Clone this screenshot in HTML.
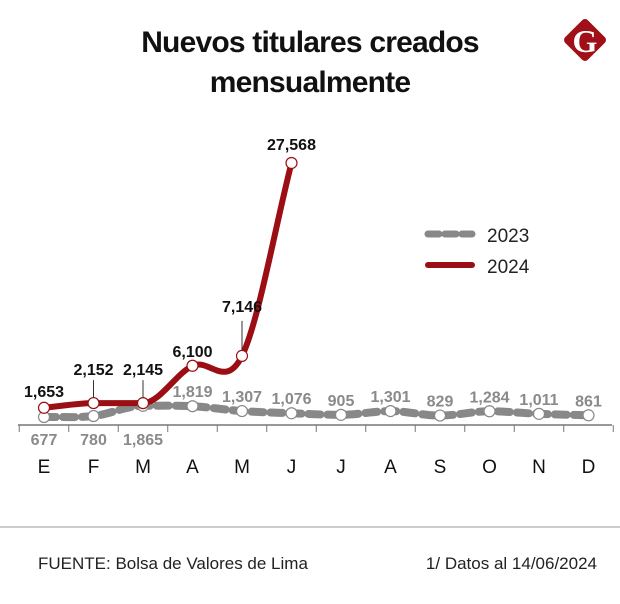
<!DOCTYPE html>
<html><head><meta charset="utf-8"><style>
body{margin:0;background:#fff;width:620px;height:599px;overflow:hidden;font-family:"Liberation Sans",sans-serif}
</style></head><body>
<svg width="620" height="599">
<text x="310" y="52" text-anchor="middle" font-size="30" font-weight="bold" fill="#111" letter-spacing="-0.8">Nuevos titulares creados</text>
<text x="310" y="92" text-anchor="middle" font-size="30" font-weight="bold" fill="#111" letter-spacing="-0.8">mensualmente</text>
<g>
<rect x="569" y="24" width="32" height="32" rx="4" fill="#a01018" transform="rotate(45 585 40)"/>
<text x="585" y="52" text-anchor="middle" font-family="Liberation Serif" font-weight="bold" font-size="32" fill="#fff">G</text>
</g>
<g>
<line x1="428" y1="234" x2="472" y2="234" stroke="#888" stroke-width="7" stroke-dasharray="11,6" stroke-linecap="round"/>
<text x="487" y="242" font-size="19" fill="#222">2023</text>
<line x1="428" y1="265" x2="472" y2="265" stroke="#9b0e14" stroke-width="6" stroke-linecap="round"/>
<text x="487" y="273" font-size="19" fill="#222">2024</text>
</g>
<g id="plot"></g>
<line x1="0" y1="527" x2="620" y2="527" stroke="#999" stroke-width="1"/>
<text x="38" y="569" font-size="17" fill="#222">FUENTE:  Bolsa de Valores de Lima</text>
<text x="597" y="569" text-anchor="end" font-size="17" fill="#222">1/ Datos al 14/06/2024</text>
</svg>
<script>
const months=["E","F","M","A","M","J","J","A","S","O","N","D"];
const v2023=[677,780,1865,1819,1307,1076,905,1301,829,1284,1011,861];
const v2024=[1653,2152,2145,6100,7146,27568];
const labels2023=["677","780","1,865","1,819","1,307","1,076","905","1,301","829","1,284","1,011","861"];
const labels2024=["1,653","2,152","2,145","6,100","7,146","27,568"];
const NS="http://www.w3.org/2000/svg";
const g=document.getElementById('plot');
const X=i=>44+i*49.5;
const Y=v=>423.4-v*0.009446;
function mk(t,a){const e=document.createElementNS(NS,t);for(const k in a)e.setAttribute(k,a[k]);g.appendChild(e);return e;}
function path(vals){
 const p=vals.map((v,i)=>[X(i),Y(v)]);const n=p.length;
 const d=[],m=[];
 for(let i=0;i<n-1;i++)d.push((p[i+1][1]-p[i][1])/(p[i+1][0]-p[i][0]));
 for(let i=0;i<n;i++){if(i==0)m.push(d[0]);else if(i==n-1)m.push(d[n-2]);else m.push(d[i-1]*d[i]<=0?0:(d[i-1]+d[i])/2);}
 let s="M"+p[0][0]+","+p[0][1];
 for(let i=0;i<n-1;i++){const h=(p[i+1][0]-p[i][0])/3;s+=" C"+(p[i][0]+h)+","+(p[i][1]+m[i]*h)+" "+(p[i+1][0]-h)+","+(p[i+1][1]-m[i+1]*h)+" "+p[i+1][0]+","+p[i+1][1];}
 return s;
}
const ax=mk('line',{x1:18,y1:425,x2:612,y2:425,stroke:'#777','stroke-width':1.5});


for(let i=0;i<=12;i++){const t=mk('line',{x1:X(i)-24.75,y1:425,x2:X(i)-24.75,y2:432,stroke:'#777','stroke-width':1});

}
months.forEach((mn,i)=>{const t=mk('text',{x:X(i),y:473,'text-anchor':'middle','font-size':19,fill:'#111'});t.textContent=mn;

});
const l23=mk('path',{d:path(v2023),fill:'none',stroke:'#888','stroke-width':8,'stroke-dasharray':'12,7','stroke-linecap':'round'});


const l24=mk('path',{d:path(v2024),fill:'none',stroke:'#9b0e14','stroke-width':6});


v2023.forEach((v,i)=>{const c=mk('circle',{cx:X(i),cy:Y(v),r:5.5,fill:'#fff',stroke:'#888','stroke-width':1.2});


const below=i<3;const t=mk('text',{x:X(i),y:below?445:Y(v)-9,'text-anchor':'middle','font-size':16,'font-weight':'bold',fill:'#8a8a8a'});t.textContent=labels2023[i];

});
v2024.forEach((v,i)=>{const c=mk('circle',{cx:X(i),cy:Y(v),r:5.5,fill:'#fff',stroke:'#9b0e14','stroke-width':1.2});


let ly=Y(v)-14;
if(i==1||i==2){ly=Y(v)-28;const ln=mk('line',{x1:X(i),y1:Y(v)-5,x2:X(i),y2:ly+5,stroke:'#333','stroke-width':1});

}
if(i==4){ly=Y(v)-44;const ln=mk('line',{x1:X(i),y1:Y(v)-5,x2:X(i),y2:ly+9,stroke:'#333','stroke-width':1});

}
if(i==0)ly=Y(v)-11;if(i==3)ly=Y(v)-9;if(i==5)ly=Y(v)-13;
const t=mk('text',{x:X(i),y:ly,'text-anchor':'middle','font-size':16,'font-weight':'bold',fill:'#111'});t.textContent=labels2024[i];

});
</script>
</body></html>
